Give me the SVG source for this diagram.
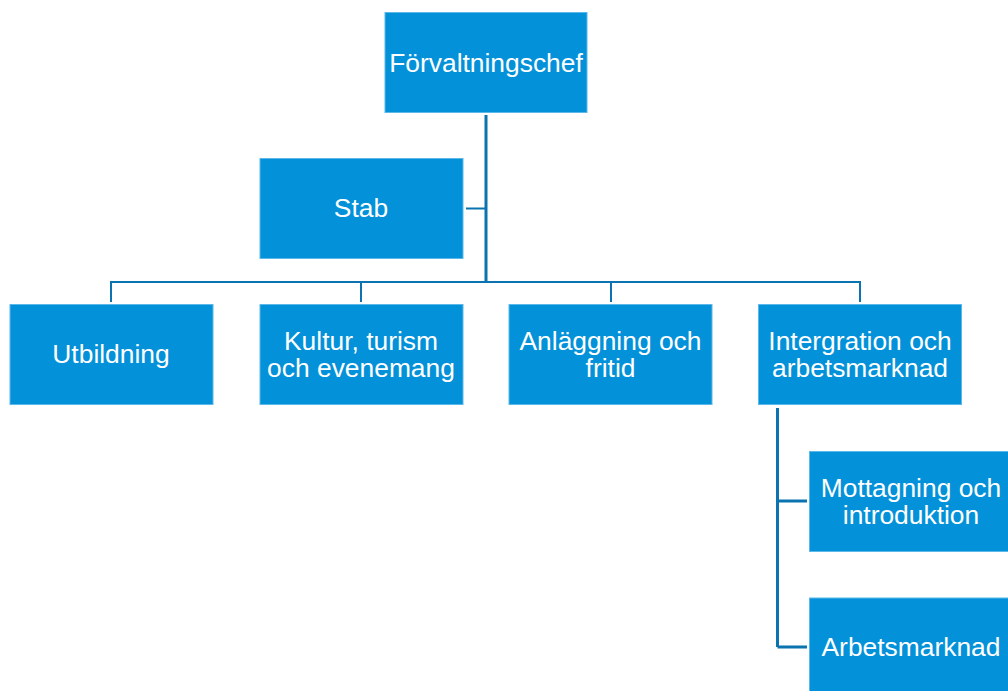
<svg xmlns="http://www.w3.org/2000/svg" width="1008" height="691" viewBox="0 0 1008 691">
<style>
.box{fill:#0391D9;stroke:#5BB8E8;stroke-width:1}
.t{font-family:"Liberation Sans",Arial,sans-serif;font-size:26.4px;fill:#ffffff;text-anchor:middle}
.c{fill:none;stroke:#0A73B0;stroke-width:2}
.thick{stroke-width:3}
</style>
<rect width="1008" height="691" fill="#ffffff"/>
<g id="connectors">
<path class="c thick" d="M486,115 V283"/>
<path class="c" d="M466,208.5 H486"/>
<path class="c" d="M110,282 H861"/>
<path class="c" d="M111,282 V302 M361,282 V302 M611,282 V302 M860,282 V302"/>
<path class="c thick" d="M777.5,408 V647"/>
<path class="c thick" d="M777.5,501 H807 M777.5,647 H807"/>
</g>
<g id="forvaltningschef">
<rect class="box" x="385" y="12.5" width="202" height="100"/>
<text class="t" x="486" y="71.5">Förvaltningschef</text>
</g>
<g id="stab">
<rect class="box" x="260" y="158.5" width="203" height="100"/>
<text class="t" x="361" y="217">Stab</text>
</g>
<g id="utbildning">
<rect class="box" x="10" y="304.5" width="203" height="100"/>
<text class="t" x="111" y="363">Utbildning</text>
</g>
<g id="kultur">
<rect class="box" x="260" y="304.5" width="203" height="100"/>
<text class="t" x="361" y="350">Kultur, turism<tspan x="361" dy="26.5">och evenemang</tspan></text>
</g>
<g id="anlaggning">
<rect class="box" x="509" y="304.5" width="203" height="100"/>
<text class="t" x="610.5" y="350">Anläggning och<tspan x="610.5" dy="26.5">fritid</tspan></text>
</g>
<g id="intergration">
<rect class="box" x="758.5" y="304.5" width="203" height="100"/>
<text class="t" x="860" y="350">Intergration och<tspan x="860" dy="26.5">arbetsmarknad</tspan></text>
</g>
<g id="mottagning">
<rect class="box" x="809.5" y="451.5" width="203" height="100"/>
<text class="t" x="911" y="497">Mottagning och<tspan x="911" dy="26.5">introduktion</tspan></text>
</g>
<g id="arbetsmarknad">
<rect class="box" x="809.5" y="598" width="203" height="100"/>
<text class="t" x="911" y="656">Arbetsmarknad</text>
</g>
</svg>
